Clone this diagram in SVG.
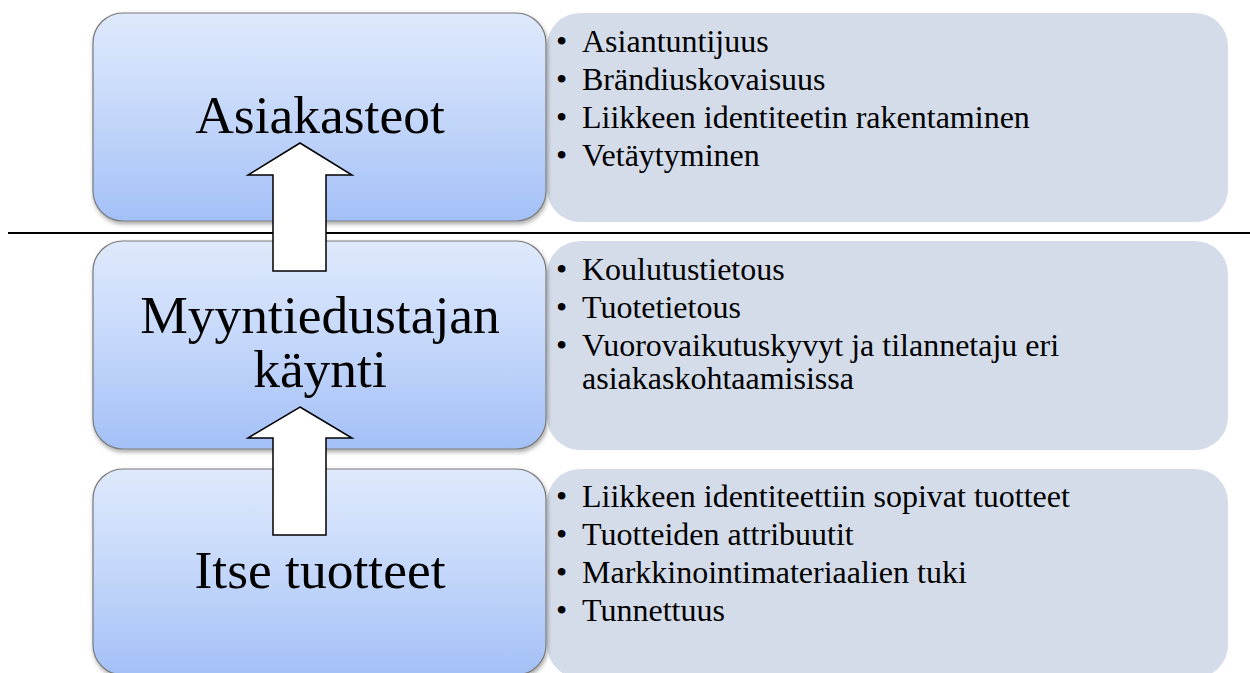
<svg xmlns="http://www.w3.org/2000/svg" width="1250" height="673" viewBox="0 0 1250 673">
<style>
.lbox{fill:url(#blue);stroke:#7a7a7a;stroke-width:1.2;filter:url(#sh)}
.rbox{fill:#d4dcea}
.big{font-family:"Liberation Serif","Times New Roman",serif;font-size:53.5px;fill:#000;text-anchor:middle}
.sm{font-family:"Liberation Serif","Times New Roman",serif;font-size:32px;fill:#000}
.arrow{fill:#fff;stroke:#000;stroke-width:1.5;stroke-linejoin:miter}
</style>
<defs>
<linearGradient id="blue" x1="0" y1="0" x2="0" y2="1">
<stop offset="0" stop-color="#dfe9fc"/>
<stop offset="0.5" stop-color="#c4d7fa"/>
<stop offset="1" stop-color="#a3c0f7"/>
</linearGradient>
<filter id="sh" x="-5%" y="-5%" width="110%" height="115%">
<feDropShadow dx="1" dy="2.5" stdDeviation="2" flood-color="#000" flood-opacity="0.35"/>
</filter>
</defs>
<rect width="1250" height="673" fill="#fff"/>
<g id="panel1"><rect class="rbox" x="547" y="13" width="681" height="209" rx="33"/>
<text class="sm"><tspan x="556" y="52">•</tspan><tspan x="582" y="52">Asiantuntijuus</tspan><tspan x="556" y="90">•</tspan><tspan x="582" y="90">Brändiuskovaisuus</tspan><tspan x="556" y="128">•</tspan><tspan x="582" y="128">Liikkeen identiteetin rakentaminen</tspan><tspan x="556" y="166">•</tspan><tspan x="582" y="166">Vetäytyminen</tspan></text></g>
<g id="panel2"><rect class="rbox" x="547" y="241" width="681" height="209" rx="33"/>
<text class="sm"><tspan x="556" y="280">•</tspan><tspan x="582" y="280">Koulutustietous</tspan><tspan x="556" y="318">•</tspan><tspan x="582" y="318">Tuotetietous</tspan><tspan x="556" y="356">•</tspan><tspan x="582" y="356">Vuorovaikutuskyvyt ja tilannetaju eri</tspan><tspan x="582" y="389">asiakaskohtaamisissa</tspan></text></g>
<g id="panel3"><rect class="rbox" x="547" y="469" width="681" height="209" rx="33"/>
<text class="sm"><tspan x="556" y="507">•</tspan><tspan x="582" y="507">Liikkeen identiteettiin sopivat tuotteet</tspan><tspan x="556" y="545">•</tspan><tspan x="582" y="545">Tuotteiden attribuutit</tspan><tspan x="556" y="583">•</tspan><tspan x="582" y="583">Markkinointimateriaalien tuki</tspan><tspan x="556" y="621">•</tspan><tspan x="582" y="621">Tunnettuus</tspan></text></g>
<g id="node1"><rect class="lbox" x="93" y="13" width="453" height="208" rx="30"/>
<text class="big" x="320" y="133">Asiakasteot</text></g>
<g id="node2"><rect class="lbox" x="93" y="241" width="453" height="208" rx="30"/>
<text class="big" x="320" y="333">Myyntiedustajan</text><text class="big" x="320" y="387">käynti</text></g>
<g id="node3"><rect class="lbox" x="93" y="469" width="453" height="206" rx="30"/>
<text class="big" x="320" y="588">Itse tuotteet</text></g>
<line id="separator" x1="8" y1="233" x2="1250" y2="233" stroke="#000" stroke-width="2"/>
<g id="connectors">
<polygon class="arrow" points="300,143 352,175 326,175 326,271 273,271 273,175 248,175"/>
<polygon class="arrow" points="300,407 352,438 326,438 326,535 273,535 273,438 248,438"/>
</g>
</svg>
